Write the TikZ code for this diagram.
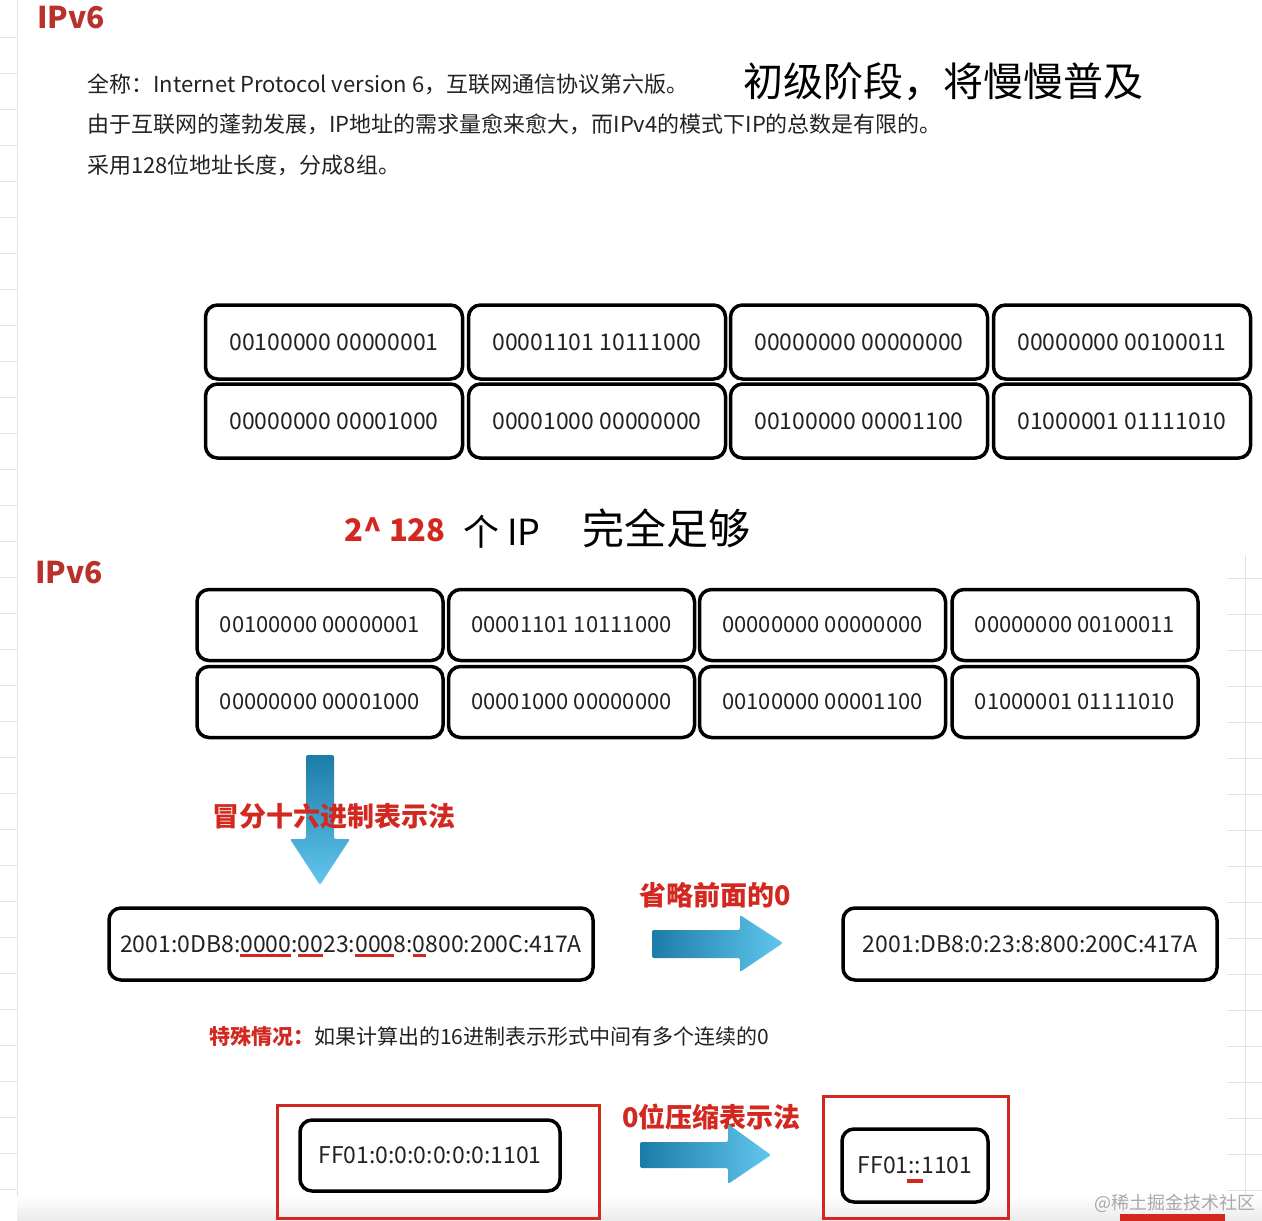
\documentclass[tikz,border=0pt]{standalone}
\usepackage{fontspec}
\setmainfont{Noto Sans CJK SC}
\definecolor{tred}{HTML}{B8312A}
\definecolor{lred}{HTML}{D2281F}
\definecolor{txt}{HTML}{222222}
\definecolor{adark}{HTML}{1B7CA8}
\definecolor{alight}{HTML}{62C6EE}
\definecolor{gridc}{HTML}{E4E4E4}
\definecolor{wmark}{HTML}{A8A8A8}
\newsavebox\myulbox
\newcommand\myfs[1]{\fontsize{#1}{#1}\selectfont}
\newcommand\redul[1]{\sbox\myulbox{#1}\rlap{\smash{\textcolor{lred}{\rule[-5pt]{\wd\myulbox}{3pt}}}}\usebox\myulbox}
\newcommand\redulb[1]{\sbox\myulbox{#1}\rlap{\smash{\textcolor{lred}{\hspace{-2pt}\rule[-9pt]{\dimexpr\wd\myulbox+4pt\relax}{4pt}}}}\usebox\myulbox}
\begin{document}
\begin{tikzpicture}[x=1pt,y=-1pt,
  cella/.style={draw=black, line width=3.5pt, rounded corners=12pt, inner sep=0pt,
    minimum width=257pt, minimum height=74pt, text=txt, font=\myfs{23}},
  cellb/.style={draw=black, line width=3.5pt, rounded corners=12pt, inner sep=0pt,
    minimum width=246pt, minimum height=71pt, text=txt, font=\myfs{22}},
  addr/.style={draw=black, line width=3.5pt, rounded corners=12pt, inner sep=0pt, text=txt, font=\myfs{23}},
  redbox/.style={draw=lred, line width=3pt, inner sep=0pt},
  body/.style={anchor=west, inner sep=0pt, text=txt, font=\myfs{22}},
  title/.style={anchor=west, inner sep=0pt, text=tred, font=\myfs{30}\bfseries},
  redlab/.style={anchor=west, inner sep=0pt, text=lred, font=\myfs{27}\bfseries},
  hand/.style={anchor=west, inner sep=0pt, text=black, font=\myfs{40}}]
\useasboundingbox (0,0) rectangle (1262,1221);
\fill[white] (0,0) rectangle (1262,1221);
% faint spreadsheet grid at the edges
\draw[gridc, line width=1pt] (17,0) -- (17,1221);
\foreach \k in {1,...,33} {\draw[gridc, line width=1pt] (0,{36*\k+1}) -- (17,{36*\k+1});}
\draw[gridc, line width=1pt] (1245,555) -- (1245,1221);
\foreach \k in {16,...,33} {\draw[gridc, line width=1pt] (1227,{36*\k+2}) -- (1262,{36*\k+2});}
\shade[top color=white, bottom color=black!8] (17,1196) rectangle (1262,1221);

% header
\node[title] (t1) at (37,18) {IPv6};
\node[body] (l1) at (87,84) {全称：Internet Protocol version 6，互联网通信协议第六版。};
\node[body] (l2) at (87,124) {由于互联网的蓬勃发展，IP地址的需求量愈来愈大，而IPv4的模式下IP的总数是有限的。};
\node[body] (l3) at (87,165) {采用128位地址长度，分成8组。};
\node[hand] (h1) at (743,82) {初级阶段，将慢慢普及};

% first grid
\node[cella] (a11) at (334,342) {00100000 00000001};
\node[cella] (a12) at (597,342) {00001101 10111000};
\node[cella] (a13) at (859,342) {00000000 00000000};
\node[cella] (a14) at (1122,342) {00000000 00100011};
\node[cella] (a21) at (334,421) {00000000 00001000};
\node[cella] (a22) at (597,421) {00001000 00000000};
\node[cella] (a23) at (859,421) {00100000 00001100};
\node[cella] (a24) at (1122,421) {01000001 01111010};

% 2^128
\node[anchor=west, inner sep=0pt, text=lred, font=\myfs{31}\bfseries] (p1) at (344,530) {2\^{} 128};
\node[hand, font=\myfs{36}] (p2) at (463,532) {个 IP};
\node[hand, font=\myfs{42}] (p3) at (582,528) {完全足够};

% second section
\node[title] (t2) at (35,573) {IPv6};
\node[cellb] (b11) at (320,625) {00100000 00000001};
\node[cellb] (b12) at (571.5,625) {00001101 10111000};
\node[cellb] (b13) at (822.5,625) {00000000 00000000};
\node[cellb] (b14) at (1075,625) {00000000 00100011};
\node[cellb] (b21) at (320,702) {00000000 00001000};
\node[cellb] (b22) at (571.5,702) {00001000 00000000};
\node[cellb] (b23) at (822.5,702) {00100000 00001100};
\node[cellb] (b24) at (1075,702) {01000001 01111010};

% down arrow
\shade[top color=adark, bottom color=alight, rounded corners=2pt]
  (306,755) -- (334,755) -- (334,839) -- (350,839) -- (320,885) -- (290,839) -- (306,839) -- cycle;
\node[redlab] (m1) at (212,816) {冒分十六进制表示法};

% address boxes
\node[addr, minimum width=484pt, minimum height=72pt] (ad1) at (351,944)
  {2001:0DB8:\redul{0000}:\redul{00}23:\redul{000}8:\redul{0}800:200C:417A};
\node[redlab] (m2) at (639,895) {省略前面的0};
\shade[left color=adark, right color=alight, rounded corners=2pt]
  (652,930) -- (740,930) -- (740,915) -- (783,943) -- (740,972) -- (740,958) -- (652,958) -- cycle;
\node[addr, minimum width=374pt, minimum height=72pt] (ad2) at (1030,944) {2001:DB8:0:23:8:800:200C:417A};

% special case
\node[body, font=\myfs{21}] (s1) at (209,1037) {\textcolor{lred}{\bfseries 特殊情况：}如果计算出的16进制表示形式中间有多个连续的0};

\node[redbox, minimum width=322pt, minimum height=113pt] (r1) at (438,1161.5) {};
\node[addr, minimum width=260pt, minimum height=71pt] (c1) at (430,1155.5) {FF01:0:0:0:0:0:0:1101};
\node[redlab] (m3) at (622,1117) {0位压缩表示法};
\shade[left color=adark, right color=alight, rounded corners=2pt]
  (640,1142) -- (728,1142) -- (728,1124) -- (771,1155) -- (728,1184) -- (728,1168) -- (640,1168) -- cycle;
\node[redbox, minimum width=185pt, minimum height=122pt] (r2) at (915.5,1157) {};
\node[addr, minimum width=146pt, minimum height=73pt] (c2) at (915,1165.5) {FF01\redulb{::}1101};

% watermark and bottom bar
\node[anchor=west, inner sep=0pt, text=wmark, font=\myfs{18}] (w1) at (1094,1203) {@稀土掘金技术社区};
\fill[lred] (1120,1214) rectangle (1225,1221);
\end{tikzpicture}
\end{document}
